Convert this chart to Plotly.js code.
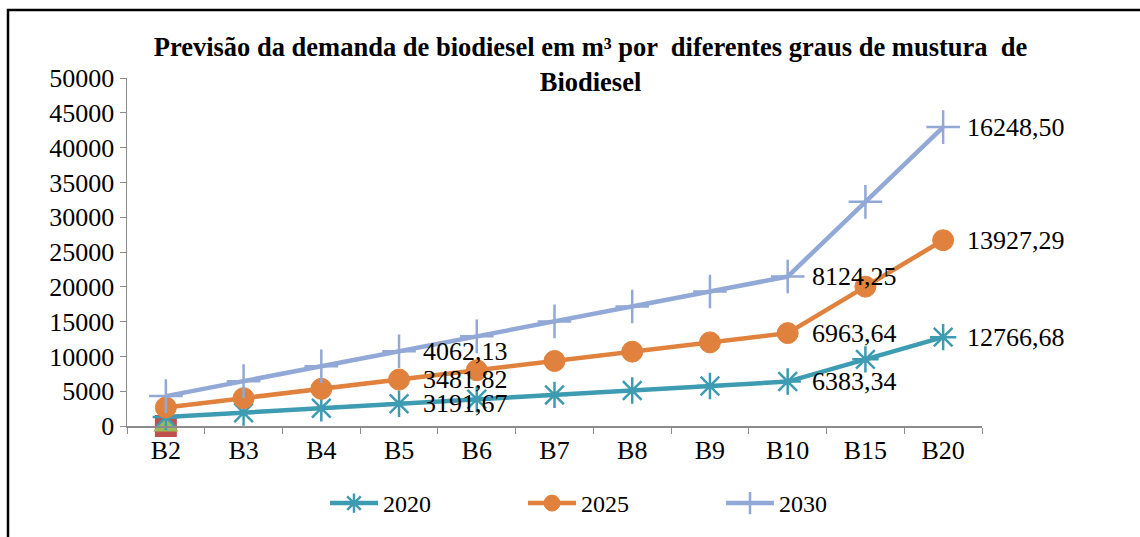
<!DOCTYPE html>
<html><head><meta charset="utf-8">
<script src="https://cdn.plot.ly/plotly-3.0.1.min.js"></script>
<style>html,body{margin:0;padding:0;background:#fff}#chart{width:1140px;height:537px}</style>
</head><body><div id="chart"></div>
<script>
const categories = ["B2","B3","B4","B5","B6","B7","B8","B9","B10","B15","B20"];
const s2020 = [1276.67, 1915.00, 2553.34, 3191.67, 3830.00, 4468.34, 5106.67, 5745.01, 6383.34, 9575.01, 12766.68];
const s2025 = [1392.73, 2089.09, 2785.46, 3481.82, 4178.18, 4874.55, 5570.91, 6267.28, 6963.64, 10445.47, 13927.29];
const s2030 = [1624.85, 2437.28, 3249.70, 4062.13, 4874.55, 5686.98, 6499.40, 7311.83, 8124.25, 12186.38, 16248.50];
const seriesNames = ["2020","2025","2030"];
const labelCats = ["B5","B10","B20"];
const hiddenZero = [0];

const colors = ["#3D9BB2","#E0823D","#92A8D6"];
const font = "Liberation Serif";

const series = [s2020, s2025, s2030];
const stacked = [];
let acc = categories.map(()=>0);
series.forEach(s => { acc = acc.map((v,i)=>v+s[i]); stacked.push(acc.slice()); });

const symbols = ["asterisk-open","circle","cross-thin-open"];
const msizes = [22, 21, 24];
const mlw = [2.5, 1, 2.5];
const traces = [];
// extra zero-value series at B2 (drawn beneath the others)
traces.push({x:["B2"], y:hiddenZero, type:"scatter", mode:"markers", showlegend:false, hoverinfo:"skip",
  cliponaxis:false, marker:{symbol:"square", size:22, color:"#C0504D"}});
traces.push({x:["B2"], y:hiddenZero, type:"scatter", mode:"markers", showlegend:false, hoverinfo:"skip",
  cliponaxis:false, marker:{symbol:"triangle-up", size:22, color:"#9BBB59"}});
series.forEach((s,k)=>traces.push({
  x: categories, y: s, name: seriesNames[k], type:"scatter", mode:"lines+markers",
  stackgroup:"one", fill:"none", cliponaxis:false,
  line:{color:colors[k], width:4.5},
  marker:{symbol:symbols[k], size:msizes[k], color:colors[k], line:{color:colors[k], width:mlw[k]}}
}));

const annotations = [];
series.forEach((s,k)=>{
  labelCats.forEach(c=>{
    const i = categories.indexOf(c);
    annotations.push({x:c, y:stacked[k][i], xref:"x", yref:"y", text:s[i].toFixed(2).replace(".",","),
      showarrow:false, xanchor:"left", yanchor:"middle", xshift:22,
      font:{family:font, size:26, color:"#000"}});
  });
});

const layout = {
  width:1140, height:537,
  margin:{l:127, r:158, t:78, b:111, autoexpand:false},
  paper_bgcolor:"#fff", plot_bgcolor:"#fff",
  font:{family:font, size:26, color:"#000"},
  title:{text:"<b>Previsão da demanda de biodiesel em m³ por  diferentes graus de mustura  de<br>Biodiesel</b>",
    font:{family:font, size:26.5, color:"#000"}, x:0.518, xanchor:"center", y:0.895, yanchor:"middle"},
  xaxis:{type:"category", showline:true, linecolor:"#8c8c8c", linewidth:1.5, ticks:"outside", ticklen:6,
    tickcolor:"#8c8c8c", tickson:"boundaries", showgrid:false, zeroline:false,
    tickfont:{family:font, size:26, color:"#000"}, range:[-0.5,10.5]},
  yaxis:{range:[0,50000], dtick:5000, showline:true, linecolor:"#8c8c8c", linewidth:1.5, ticks:"outside",
    ticklen:6, tickcolor:"#8c8c8c", showgrid:false, zeroline:false, tickformat:"d",
    tickfont:{family:font, size:26, color:"#000"}},
  legend:{orientation:"h", x:(325-127)/855, xanchor:"left", y:(426-481)/348, yanchor:"top",
    font:{family:font, size:24, color:"#000"}, entrywidth:135, itemwidth:48, traceorder:"normal"},
  annotations:annotations,
  shapes:[{type:"rect", xref:"paper", yref:"paper",
    x0:(8-127)/855, x1:(1150-127)/855, y0:(426-560)/348, y1:(426-10)/348,
    line:{color:"#000", width:2.5}, fillcolor:"rgba(0,0,0,0)"}],
  showlegend:true
};
Plotly.newPlot("chart", traces, layout, {displayModeBar:false, staticPlot:true});
</script></body></html>
